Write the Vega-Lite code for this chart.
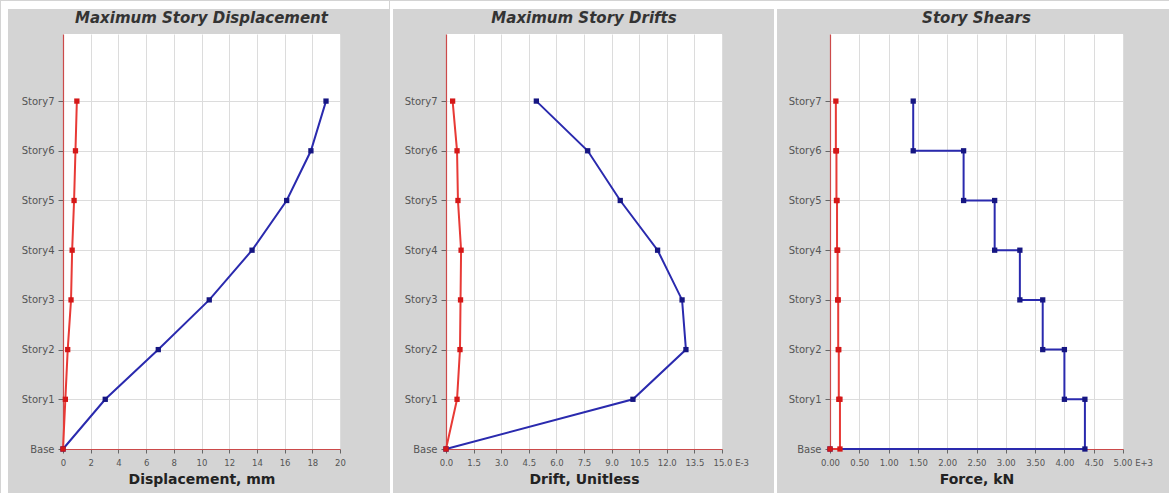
{
  "$schema": "https://vega.github.io/schema/vega-lite/v6.json",
  "background": "#d4d4d4",
  "padding": 0,
  "spacing": 0,
  "config": {
    "view": {"fill": "white", "stroke": null},
    "axis": {
      "gridColor": "#dcdcdc",
      "gridWidth": 1,
      "domainColor": "#cc4a4a",
      "domainWidth": 1.2,
      "tickColor": "#666666",
      "labelColor": "#555555",
      "labelFont": "DejaVu Sans",
      "titleFont": "DejaVu Sans",
      "titleFontWeight": "bold",
      "titleColor": "#222222",
      "titleFontSize": 14,
      "labelOverlap": false,
      "labelBound": false,
      "labelFlush": false
    },
    "axisX": {"tickSize": 4, "labelPadding": 5, "labelFontSize": 8.5, "titlePadding": 6, "tickCount": 30},
    "axisY": {"tickSize": 5, "labelPadding": 4, "labelFontSize": 10, "tickCount": 30},
    "title": {"font": "DejaVu Sans", "fontSize": 15, "fontStyle": "italic", "fontWeight": "bold", "color": "#333333", "offset": -25, "anchor": "middle", "frame": "group"}
  },
  "datasets": {
    "one": [{}],
    "disp": [
      {"series": "Case 1", "level": 0, "value": 0, "seq": 0},
      {"series": "Case 1", "level": 1, "value": 3.05, "seq": 1},
      {"series": "Case 1", "level": 2, "value": 6.88, "seq": 2},
      {"series": "Case 1", "level": 3, "value": 10.56, "seq": 3},
      {"series": "Case 1", "level": 4, "value": 13.65, "seq": 4},
      {"series": "Case 1", "level": 5, "value": 16.15, "seq": 5},
      {"series": "Case 1", "level": 6, "value": 17.9, "seq": 6},
      {"series": "Case 1", "level": 7, "value": 18.99, "seq": 7},
      {"series": "Case 2", "level": 0, "value": 0, "seq": 0},
      {"series": "Case 2", "level": 1, "value": 0.17, "seq": 1},
      {"series": "Case 2", "level": 2, "value": 0.34, "seq": 2},
      {"series": "Case 2", "level": 3, "value": 0.58, "seq": 3},
      {"series": "Case 2", "level": 4, "value": 0.66, "seq": 4},
      {"series": "Case 2", "level": 5, "value": 0.8, "seq": 5},
      {"series": "Case 2", "level": 6, "value": 0.9, "seq": 6},
      {"series": "Case 2", "level": 7, "value": 1.0, "seq": 7}
    ],
    "drift": [
      {"series": "Case 1", "level": 0, "value": 0, "seq": 0},
      {"series": "Case 1", "level": 1, "value": 10.16, "seq": 1},
      {"series": "Case 1", "level": 2, "value": 13.04, "seq": 2},
      {"series": "Case 1", "level": 3, "value": 12.83, "seq": 3},
      {"series": "Case 1", "level": 4, "value": 11.5, "seq": 4},
      {"series": "Case 1", "level": 5, "value": 9.47, "seq": 5},
      {"series": "Case 1", "level": 6, "value": 7.7, "seq": 6},
      {"series": "Case 1", "level": 7, "value": 4.91, "seq": 7},
      {"series": "Case 2", "level": 0, "value": 0, "seq": 0},
      {"series": "Case 2", "level": 1, "value": 0.6, "seq": 1},
      {"series": "Case 2", "level": 2, "value": 0.76, "seq": 2},
      {"series": "Case 2", "level": 3, "value": 0.79, "seq": 3},
      {"series": "Case 2", "level": 4, "value": 0.82, "seq": 4},
      {"series": "Case 2", "level": 5, "value": 0.65, "seq": 5},
      {"series": "Case 2", "level": 6, "value": 0.6, "seq": 6},
      {"series": "Case 2", "level": 7, "value": 0.36, "seq": 7}
    ],
    "shear": [
      {"series": "Case 1", "level": 7, "value": 1.42, "seq": 0},
      {"series": "Case 1", "level": 6, "value": 1.42, "seq": 1},
      {"series": "Case 1", "level": 6, "value": 2.28, "seq": 2},
      {"series": "Case 1", "level": 5, "value": 2.28, "seq": 3},
      {"series": "Case 1", "level": 5, "value": 2.81, "seq": 4},
      {"series": "Case 1", "level": 4, "value": 2.81, "seq": 5},
      {"series": "Case 1", "level": 4, "value": 3.24, "seq": 6},
      {"series": "Case 1", "level": 3, "value": 3.24, "seq": 7},
      {"series": "Case 1", "level": 3, "value": 3.63, "seq": 8},
      {"series": "Case 1", "level": 2, "value": 3.63, "seq": 9},
      {"series": "Case 1", "level": 2, "value": 4.0, "seq": 10},
      {"series": "Case 1", "level": 1, "value": 4.0, "seq": 11},
      {"series": "Case 1", "level": 1, "value": 4.35, "seq": 12},
      {"series": "Case 1", "level": 0, "value": 4.35, "seq": 13},
      {"series": "Case 1", "level": 0, "value": 0, "seq": 14},
      {"series": "Case 2", "level": 7, "value": 0.1, "seq": 0},
      {"series": "Case 2", "level": 6, "value": 0.1, "seq": 1},
      {"series": "Case 2", "level": 6, "value": 0.11, "seq": 2},
      {"series": "Case 2", "level": 5, "value": 0.11, "seq": 3},
      {"series": "Case 2", "level": 5, "value": 0.12, "seq": 4},
      {"series": "Case 2", "level": 4, "value": 0.12, "seq": 5},
      {"series": "Case 2", "level": 4, "value": 0.13, "seq": 6},
      {"series": "Case 2", "level": 3, "value": 0.13, "seq": 7},
      {"series": "Case 2", "level": 3, "value": 0.14, "seq": 8},
      {"series": "Case 2", "level": 2, "value": 0.14, "seq": 9},
      {"series": "Case 2", "level": 2, "value": 0.15, "seq": 10},
      {"series": "Case 2", "level": 1, "value": 0.15, "seq": 11},
      {"series": "Case 2", "level": 1, "value": 0.17, "seq": 12},
      {"series": "Case 2", "level": 0, "value": 0.17, "seq": 13},
      {"series": "Case 2", "level": 0, "value": 0, "seq": 14}
    ]
  },
  "hconcat": [
    {
      "width": 277,
      "height": 415,
      "title": "Maximum Story Displacement",
      "layer": [
        {"data": {"name": "one"}, "mark": {"type": "rect", "color": "white"}, "encoding": {
          "x": {"datum": -4.477, "type": "quantitative", "scale": {"domain": [0, 20], "nice": false, "zero": false}},
          "x2": {"datum": -3.971},
          "y": {"datum": -0.9054, "type": "quantitative", "scale": {"domain": [0, 8.35], "nice": false, "zero": false}},
          "y2": {"datum": 9.014}}},
        {"data": {"name": "one"}, "mark": {"type": "rect", "color": "white"}, "encoding": {
          "x": {"datum": -4.477, "type": "quantitative", "scale": {"domain": [0, 20], "nice": false, "zero": false}},
          "x2": {"datum": 23.538},
          "y": {"datum": 8.853, "type": "quantitative", "scale": {"domain": [0, 8.35], "nice": false, "zero": false}},
          "y2": {"datum": 9.014}}},
        {
          "data": {"name": "disp"},
          "mark": {"type": "line", "strokeWidth": 2},
          "encoding": {
            "x": {"field": "value", "type": "quantitative", "scale": {"domain": [0, 20], "nice": false, "zero": false},
              "axis": {"title": "Displacement, mm", "values": [0, 2, 4, 6, 8, 10, 12, 14, 16, 18, 20], "format": "d", "grid": true}},
            "y": {"field": "level", "type": "quantitative", "scale": {"domain": [0, 8.35], "nice": false, "zero": false},
              "axis": {"title": null, "values": [0, 1, 2, 3, 4, 5, 6, 7], "labelExpr": "datum.value == 0 ? 'Base' : 'Story' + datum.value", "grid": true}},
            "color": {"field": "series", "type": "nominal", "scale": {"domain": ["Case 1", "Case 2"], "range": ["#2a2aae", "#e83a36"]}, "legend": null},
            "order": {"field": "seq", "type": "quantitative"}
          }
        },
        {
          "data": {"name": "disp"},
          "mark": {"type": "point", "shape": "square", "filled": true, "size": 28, "opacity": 1},
          "encoding": {
            "x": {"field": "value", "type": "quantitative", "scale": {"domain": [0, 20], "nice": false, "zero": false}},
            "y": {"field": "level", "type": "quantitative", "scale": {"domain": [0, 8.35], "nice": false, "zero": false}},
            "fill": {"field": "series", "type": "nominal", "scale": {"domain": ["Case 1", "Case 2"], "range": ["#161682", "#d41818"]}, "legend": null}
          }
        }
      ]
    },
    {
      "width": 276,
      "height": 415,
      "title": "Maximum Story Drifts",
      "layer": [
        {"data": {"name": "one"}, "mark": {"type": "rect", "color": "white"}, "encoding": {
          "x": {"datum": -3.043, "type": "quantitative", "scale": {"domain": [0, 15], "nice": false, "zero": false}},
          "x2": {"datum": -2.88},
          "y": {"datum": -0.9054, "type": "quantitative", "scale": {"domain": [0, 8.35], "nice": false, "zero": false}},
          "y2": {"datum": 9.014}}},
        {"data": {"name": "one"}, "mark": {"type": "rect", "color": "white"}, "encoding": {
          "x": {"datum": -3.043, "type": "quantitative", "scale": {"domain": [0, 15], "nice": false, "zero": false}},
          "x2": {"datum": 17.826},
          "y": {"datum": 8.853, "type": "quantitative", "scale": {"domain": [0, 8.35], "nice": false, "zero": false}},
          "y2": {"datum": 9.014}}},
        {
          "data": {"name": "drift"},
          "mark": {"type": "line", "strokeWidth": 2},
          "encoding": {
            "x": {"field": "value", "type": "quantitative", "scale": {"domain": [0, 15], "nice": false, "zero": false},
              "axis": {"title": "Drift, Unitless", "values": [0, 1.5, 3, 4.5, 6, 7.5, 9, 10.5, 12, 13.5, 15], "labelExpr": "datum.value == 15 ? '15.0 E-3' : format(datum.value, '.1f')",
                "labelAlign": {"condition": {"test": "datum.value == 15", "value": "left"}, "value": "center"},
                "labelOffset": {"condition": {"test": "datum.value == 15", "value": -9}, "value": 0}, "grid": true}},
            "y": {"field": "level", "type": "quantitative", "scale": {"domain": [0, 8.35], "nice": false, "zero": false},
              "axis": {"title": null, "values": [0, 1, 2, 3, 4, 5, 6, 7], "labelExpr": "datum.value == 0 ? 'Base' : 'Story' + datum.value", "grid": true}},
            "color": {"field": "series", "type": "nominal", "scale": {"domain": ["Case 1", "Case 2"], "range": ["#2a2aae", "#e83a36"]}, "legend": null},
            "order": {"field": "seq", "type": "quantitative"}
          }
        },
        {
          "data": {"name": "drift"},
          "mark": {"type": "point", "shape": "square", "filled": true, "size": 28, "opacity": 1},
          "encoding": {
            "x": {"field": "value", "type": "quantitative", "scale": {"domain": [0, 15], "nice": false, "zero": false}},
            "y": {"field": "level", "type": "quantitative", "scale": {"domain": [0, 8.35], "nice": false, "zero": false}},
            "fill": {"field": "series", "type": "nominal", "scale": {"domain": ["Case 1", "Case 2"], "range": ["#161682", "#d41818"]}, "legend": null}
          }
        }
      ]
    },
    {
      "width": 293,
      "height": 415,
      "title": "Story Shears",
      "layer": [
        {"data": {"name": "one"}, "mark": {"type": "rect", "color": "white"}, "encoding": {
          "x": {"datum": -0.9556, "type": "quantitative", "scale": {"domain": [0, 5], "nice": false, "zero": false}},
          "x2": {"datum": -0.9044},
          "y": {"datum": -0.9054, "type": "quantitative", "scale": {"domain": [0, 8.35], "nice": false, "zero": false}},
          "y2": {"datum": 9.014}}},
        {"data": {"name": "one"}, "mark": {"type": "rect", "color": "white"}, "encoding": {
          "x": {"datum": -0.9556, "type": "quantitative", "scale": {"domain": [0, 5], "nice": false, "zero": false}},
          "x2": {"datum": 5.922},
          "y": {"datum": 8.853, "type": "quantitative", "scale": {"domain": [0, 8.35], "nice": false, "zero": false}},
          "y2": {"datum": 9.014}}},
        {
          "data": {"name": "shear"},
          "mark": {"type": "line", "strokeWidth": 2},
          "encoding": {
            "x": {"field": "value", "type": "quantitative", "scale": {"domain": [0, 5], "nice": false, "zero": false},
              "axis": {"title": "Force, kN", "values": [0, 0.5, 1, 1.5, 2, 2.5, 3, 3.5, 4, 4.5, 5], "labelExpr": "datum.value == 5 ? '5.00 E+3' : format(datum.value, '.2f')",
                "labelAlign": {"condition": {"test": "datum.value == 5", "value": "left"}, "value": "center"},
                "labelOffset": {"condition": {"test": "datum.value == 5", "value": -10}, "value": 0}, "grid": true}},
            "y": {"field": "level", "type": "quantitative", "scale": {"domain": [0, 8.35], "nice": false, "zero": false},
              "axis": {"title": null, "values": [0, 1, 2, 3, 4, 5, 6, 7], "labelExpr": "datum.value == 0 ? 'Base' : 'Story' + datum.value", "grid": true}},
            "color": {"field": "series", "type": "nominal", "scale": {"domain": ["Case 1", "Case 2"], "range": ["#2a2aae", "#e83a36"]}, "legend": null},
            "order": {"field": "seq", "type": "quantitative"}
          }
        },
        {
          "data": {"name": "shear"},
          "mark": {"type": "point", "shape": "square", "filled": true, "size": 28, "opacity": 1},
          "encoding": {
            "x": {"field": "value", "type": "quantitative", "scale": {"domain": [0, 5], "nice": false, "zero": false}},
            "y": {"field": "level", "type": "quantitative", "scale": {"domain": [0, 8.35], "nice": false, "zero": false}},
            "fill": {"field": "series", "type": "nominal", "scale": {"domain": ["Case 1", "Case 2"], "range": ["#161682", "#d41818"]}, "legend": null}
          }
        }
      ]
    }
  ]
}
